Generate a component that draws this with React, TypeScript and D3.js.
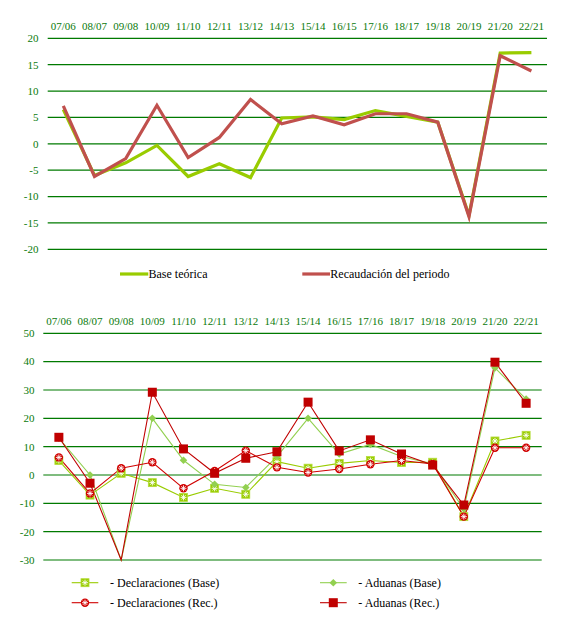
import React from "react";
import * as d3 from "d3";

const categories = ["07/06","08/07","09/08","10/09","11/10","12/11","13/12","14/13","15/14","16/15","17/16","18/17","19/18","20/19","21/20","22/21"];

const baseTeorica = [6.5, -6.0, -3.6, -0.3, -6.2, -3.8, -6.4, 4.9, 5.1, 4.6, 6.3, 5.2, 4.1, -13.6, 17.2, 17.3];
const recaudacion = [7.2, -6.2, -2.8, 7.3, -2.6, 1.2, 8.4, 3.8, 5.3, 3.6, 5.7, 5.7, 4.1, -13.8, 16.7, 13.8];

const declBase = [5.1, -7.1, 0.6, -2.7, -7.9, -4.7, -6.8, 4.7, 2.4, 4.1, 5.1, 4.4, 4.5, -14.7, 12.0, 14.0];
const aduBase = [13.0, 0.0, -30, 20.0, 5.2, -3.3, -4.4, 6.5, 20.0, 7.4, 10.8, 6.5, 3.9, -12.0, 37.8, 26.8];
const declRec = [6.2, -6.5, 2.4, 4.5, -4.7, 1.4, 8.6, 2.7, 0.9, 2.1, 3.8, 5.1, 3.9, -14.7, 9.6, 9.6];
const aduRec = [13.3, -2.9, -30, 29.2, 9.2, 0.6, 5.9, 8.2, 25.7, 8.5, 12.4, 7.4, 3.5, -10.6, 39.8, 25.3];

const topTicks = [20, 15, 10, 5, 0, -5, -10, -15, -20];
const bottomTicks = [50, 40, 30, 20, 10, 0, -10, -20, -30];

const GRID = "#007A00";
const LABEL = "#0A7A0A";
const FONT = "Liberation Serif, Times New Roman, Times, DejaVu Serif, serif";
const C_GREEN = "#99CC00";
const C_LGREEN = "#92D050";
const C_RED = "#C0504D";
const C_DRED = "#C00000";
const C_RED2 = "#D00000";

const txt = { fontFamily: FONT };

function Asterisk({ x, y, r }: { x: number; y: number; r: number }) {
  const d = r * 0.7;
  return (
    <g stroke="#fff" strokeWidth={0.9}>
      <line x1={x - r} y1={y} x2={x + r} y2={y} />
      <line x1={x} y1={y - r} x2={x} y2={y + r} />
      <line x1={x - d} y1={y - d} x2={x + d} y2={y + d} />
      <line x1={x - d} y1={y + d} x2={x + d} y2={y - d} />
    </g>
  );
}

function DeclBaseMarker({ x, y }: { x: number; y: number }) {
  return (
    <g>
      <rect x={x - 4} y={y - 4} width={8} height={8} fill={C_GREEN} stroke="#B5DC3A" strokeWidth={0.8} />
      <Asterisk x={x} y={y} r={3} />
    </g>
  );
}
function DeclRecMarker({ x, y }: { x: number; y: number }) {
  return (
    <g>
      <circle cx={x} cy={y} r={4.2} fill={C_RED2} />
      <Asterisk x={x} y={y} r={3} />
    </g>
  );
}
function AduBaseMarker({ x, y }: { x: number; y: number }) {
  return <path d={`M${x},${y - 3.8}L${x + 3.8},${y}L${x},${y + 3.8}L${x - 3.8},${y}Z`} fill={C_LGREEN} />;
}
function AduRecMarker({ x, y }: { x: number; y: number }) {
  return <rect x={x - 4.5} y={y - 4.5} width={9} height={9} fill={C_DRED} />;
}

export default function App() {
  // top chart
  const xTop = d3.scalePoint<string>().domain(categories).range([47.7, 547]).padding(0.5);
  const yTop = d3.scaleLinear().domain([-20, 20]).range([249.3, 38.3]);
  const lineTop = (vals: number[]) =>
    d3.line<number>().x((_, i) => xTop(categories[i])!).y((v) => yTop(v))(vals)!;

  // bottom chart
  const xBot = d3.scalePoint<string>().domain(categories).range([43.3, 541.7]).padding(0.5);
  const yBot = d3.scaleLinear().domain([-30, 50]).range([560, 333.3]);
  const lineBot = (vals: number[]) =>
    d3.line<number>().x((_, i) => xBot(categories[i])!).y((v) => yBot(v))(vals)!;
  const inPlot = (v: number) => v > -30;

  return (
    <svg
      width={564}
      height={621}
      style={{ position: "absolute", left: 0, top: 0, background: "#fff", fontFamily: FONT }}
    >
      {/* ===== Top chart ===== */}
      <g>
        {topTicks.map((t) => (
          <g key={"tt" + t}>
            <line x1={47.7} x2={547} y1={yTop(t)} y2={yTop(t)} stroke={GRID} strokeWidth={1.2} />
            <text x={38.5} y={yTop(t)} dy="0.35em" textAnchor="end" fontSize={11} fill={LABEL} style={txt}>
              {t}
            </text>
          </g>
        ))}
        {categories.map((c) => (
          <text key={"tc" + c} x={xTop(c)} y={29.5} textAnchor="middle" fontSize={11} fill={LABEL} style={txt}>
            {c}
          </text>
        ))}
        <path d={lineTop(baseTeorica)} fill="none" stroke={C_GREEN} strokeWidth={3.2} />
        <path d={lineTop(recaudacion)} fill="none" stroke={C_RED} strokeWidth={3.2} />
        {/* legend */}
        <line x1={120} x2={148.3} y1={274} y2={274} stroke={C_GREEN} strokeWidth={3.2} />
        <text x={148.5} y={274} dy="0.35em" fontSize={12} fill="#000" style={txt}>Base teórica</text>
        <line x1={302.3} x2={330} y1={274} y2={274} stroke={C_RED} strokeWidth={3.2} />
        <text x={330.3} y={274} dy="0.35em" fontSize={12} fill="#000" style={txt}>Recaudación del periodo</text>
      </g>

      {/* ===== Bottom chart ===== */}
      <g>
        {bottomTicks.map((t) => (
          <g key={"bt" + t}>
            <line x1={43.3} x2={541.7} y1={yBot(t)} y2={yBot(t)} stroke={GRID} strokeWidth={1.2} />
            <text x={34.5} y={yBot(t)} dy="0.35em" textAnchor="end" fontSize={11} fill={LABEL} style={txt}>
              {t}
            </text>
          </g>
        ))}
        {categories.map((c) => (
          <text key={"bc" + c} x={xBot(c)} y={324.5} textAnchor="middle" fontSize={11} fill={LABEL} style={txt}>
            {c}
          </text>
        ))}
        <path d={lineBot(declBase)} fill="none" stroke={C_GREEN} strokeWidth={1.1} />
        <path d={lineBot(aduBase)} fill="none" stroke={C_LGREEN} strokeWidth={1.1} />
        <path d={lineBot(declRec)} fill="none" stroke={C_RED2} strokeWidth={1.1} />
        <path d={lineBot(aduRec)} fill="none" stroke={C_DRED} strokeWidth={1.1} />
        {declBase.map((v, i) =>
          inPlot(v) ? <DeclBaseMarker key={"db" + i} x={xBot(categories[i])!} y={yBot(v)} /> : null
        )}
        {aduBase.map((v, i) =>
          inPlot(v) ? <AduBaseMarker key={"ab" + i} x={xBot(categories[i])!} y={yBot(v)} /> : null
        )}
        {declRec.map((v, i) =>
          inPlot(v) ? <DeclRecMarker key={"dr" + i} x={xBot(categories[i])!} y={yBot(v)} /> : null
        )}
        {aduRec.map((v, i) =>
          inPlot(v) ? <AduRecMarker key={"ar" + i} x={xBot(categories[i])!} y={yBot(v)} /> : null
        )}

        {/* legend */}
        <line x1={71.7} x2={98.3} y1={582.7} y2={582.7} stroke={C_GREEN} strokeWidth={1.1} />
        <DeclBaseMarker x={85} y={582.7} />
        <text x={110} y={582.7} dy="0.35em" fontSize={12} fill="#000" style={txt}>- Declaraciones (Base)</text>

        <line x1={71.7} x2={98.3} y1={602.7} y2={602.7} stroke={C_RED2} strokeWidth={1.1} />
        <DeclRecMarker x={85} y={602.7} />
        <text x={110} y={602.7} dy="0.35em" fontSize={12} fill="#000" style={txt}>- Declaraciones (Rec.)</text>

        <line x1={320} x2={346.7} y1={582.7} y2={582.7} stroke={C_LGREEN} strokeWidth={1.1} />
        <AduBaseMarker x={333.3} y={582.7} />
        <text x={358.3} y={582.7} dy="0.35em" fontSize={12} fill="#000" style={txt}>- Aduanas (Base)</text>

        <line x1={320} x2={346.7} y1={602.7} y2={602.7} stroke={C_DRED} strokeWidth={1.1} />
        <AduRecMarker x={333.3} y={602.7} />
        <text x={358.3} y={602.7} dy="0.35em" fontSize={12} fill="#000" style={txt}>- Aduanas (Rec.)</text>
      </g>
    </svg>
  );
}
